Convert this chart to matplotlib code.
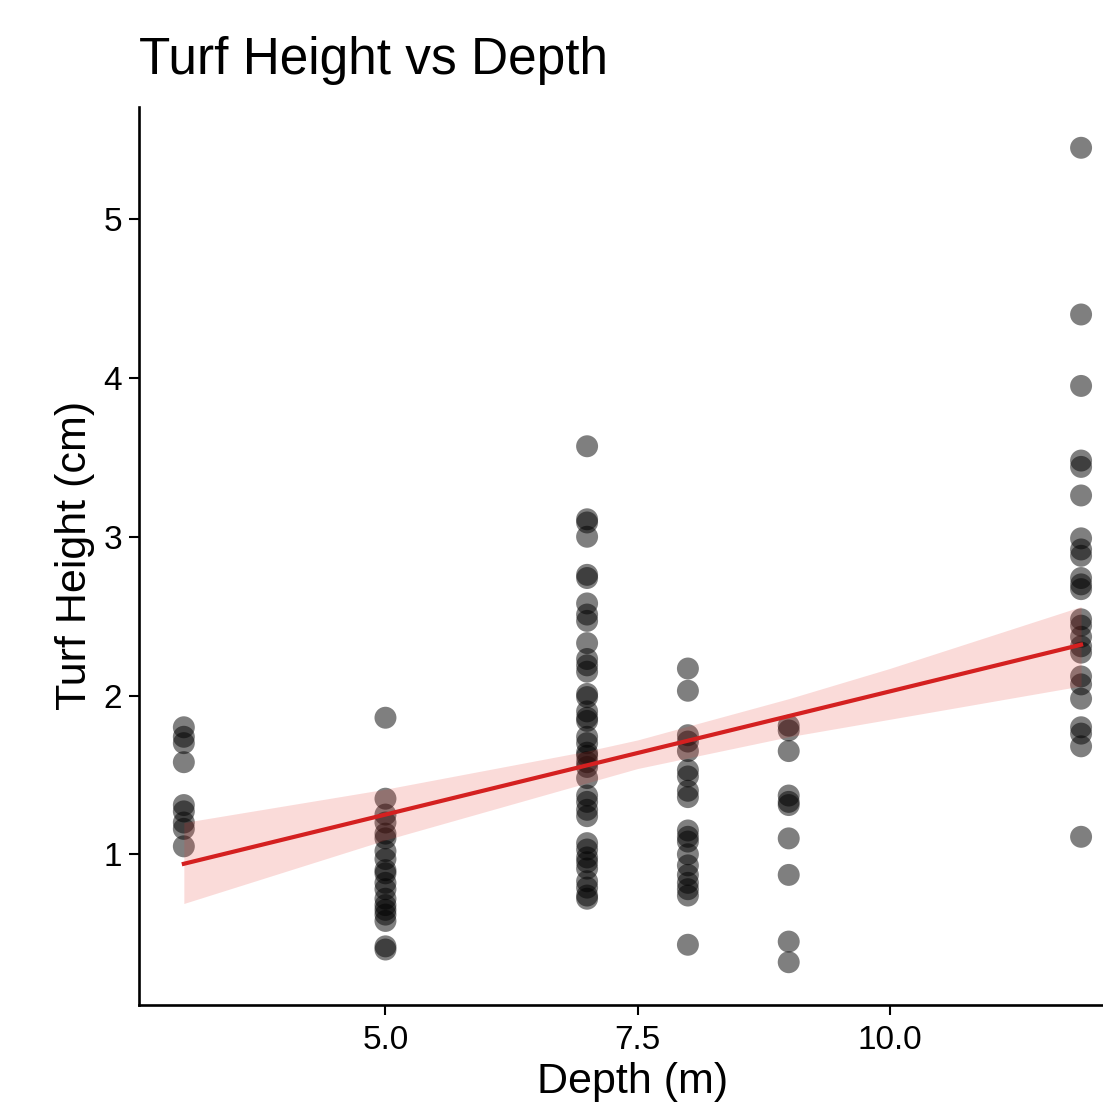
import matplotlib.pyplot as plt

plt.rcParams['font.family'] = ['Liberation Sans', 'DejaVu Sans']

# turf height (cm) readings by depth (m)
depth_3 = [1.80, 1.74, 1.70, 1.58, 1.31, 1.27, 1.20, 1.16, 1.05]
depth_5 = [1.86, 1.35, 1.25, 1.20, 1.13, 1.10, 1.02, 0.97, 0.90, 0.88, 0.82,
           0.78, 0.72, 0.68, 0.65, 0.62, 0.58, 0.42, 0.40]
depth_7 = [3.57, 3.11, 3.09, 3.00, 2.76, 2.74, 2.58, 2.51, 2.47, 2.33, 2.23,
           2.19, 2.15, 2.01, 1.99, 1.90, 1.86, 1.84, 1.74, 1.70, 1.64, 1.62,
           1.58, 1.55, 1.48, 1.37, 1.33, 1.28, 1.24, 1.07, 1.03, 0.98, 0.95,
           0.91, 0.83, 0.79, 0.74, 0.72]
depth_8 = [2.17, 2.03, 1.75, 1.71, 1.65, 1.53, 1.49, 1.40, 1.36, 1.15, 1.11,
           1.08, 1.00, 0.93, 0.87, 0.82, 0.78, 0.74, 0.43]
depth_9 = [1.81, 1.78, 1.65, 1.37, 1.33, 1.31, 1.10, 0.87, 0.45, 0.32]
depth_12 = [5.45, 4.40, 3.95, 3.48, 3.44, 3.26, 2.99, 2.92, 2.88, 2.74, 2.70,
            2.67, 2.48, 2.44, 2.37, 2.31, 2.27, 2.12, 2.07, 1.98, 1.80, 1.76,
            1.68, 1.11]

# linear smooth and its confidence band
fit_depth = [3, 5, 7, 7.5, 9, 10, 11.9]
fit_height = [0.94, 1.25, 1.55, 1.63, 1.86, 2.01, 2.32]
fit_lower = [0.69, 1.09, 1.45, 1.54, 1.74, 1.85, 2.06]
fit_upper = [1.20, 1.41, 1.65, 1.72, 1.98, 2.17, 2.56]

groups = {3: depth_3, 5: depth_5, 7: depth_7, 8: depth_8, 9: depth_9, 11.9: depth_12}

fig = plt.figure(figsize=(11.03, 11.03), dpi=100)
ax = fig.add_axes([0.126, 0.0892, 0.8948, 0.8138])

for d, vals in groups.items():
    ax.scatter([d] * len(vals), vals, s=250, color='black', alpha=0.5,
               edgecolors='none', zorder=2)
ax.fill_between(fit_depth, fit_lower, fit_upper, color='#e8382f', alpha=0.18,
                linewidth=0, zorder=3)
ax.plot([fit_depth[0], fit_depth[-1]], [fit_height[0], fit_height[-1]],
        color='#d42020', linewidth=3.0, zorder=4)

ax.set_xlim(2.555, 12.345)
ax.set_ylim(0.053, 5.707)
ax.set_xticks([5.0, 7.5, 10.0])
ax.set_xticklabels(['5.0', '7.5', '10.0'])
ax.set_yticks([1, 2, 3, 4, 5])

for side in ['top', 'right']:
    ax.spines[side].set_visible(False)
for side in ['left', 'bottom']:
    ax.spines[side].set_linewidth(1.9)
ax.tick_params(labelsize=24, length=7, width=1.5, pad=5, colors='black')
ax.tick_params(axis='x', pad=8)

ax.set_xlabel('Depth (m)', fontsize=31, labelpad=4)
ax.set_ylabel('Turf Height (cm)', fontsize=31, labelpad=6)
ax.set_title('Turf Height vs Depth', fontsize=37, loc='left', pad=24)

fig.savefig('out.png', dpi=100)
